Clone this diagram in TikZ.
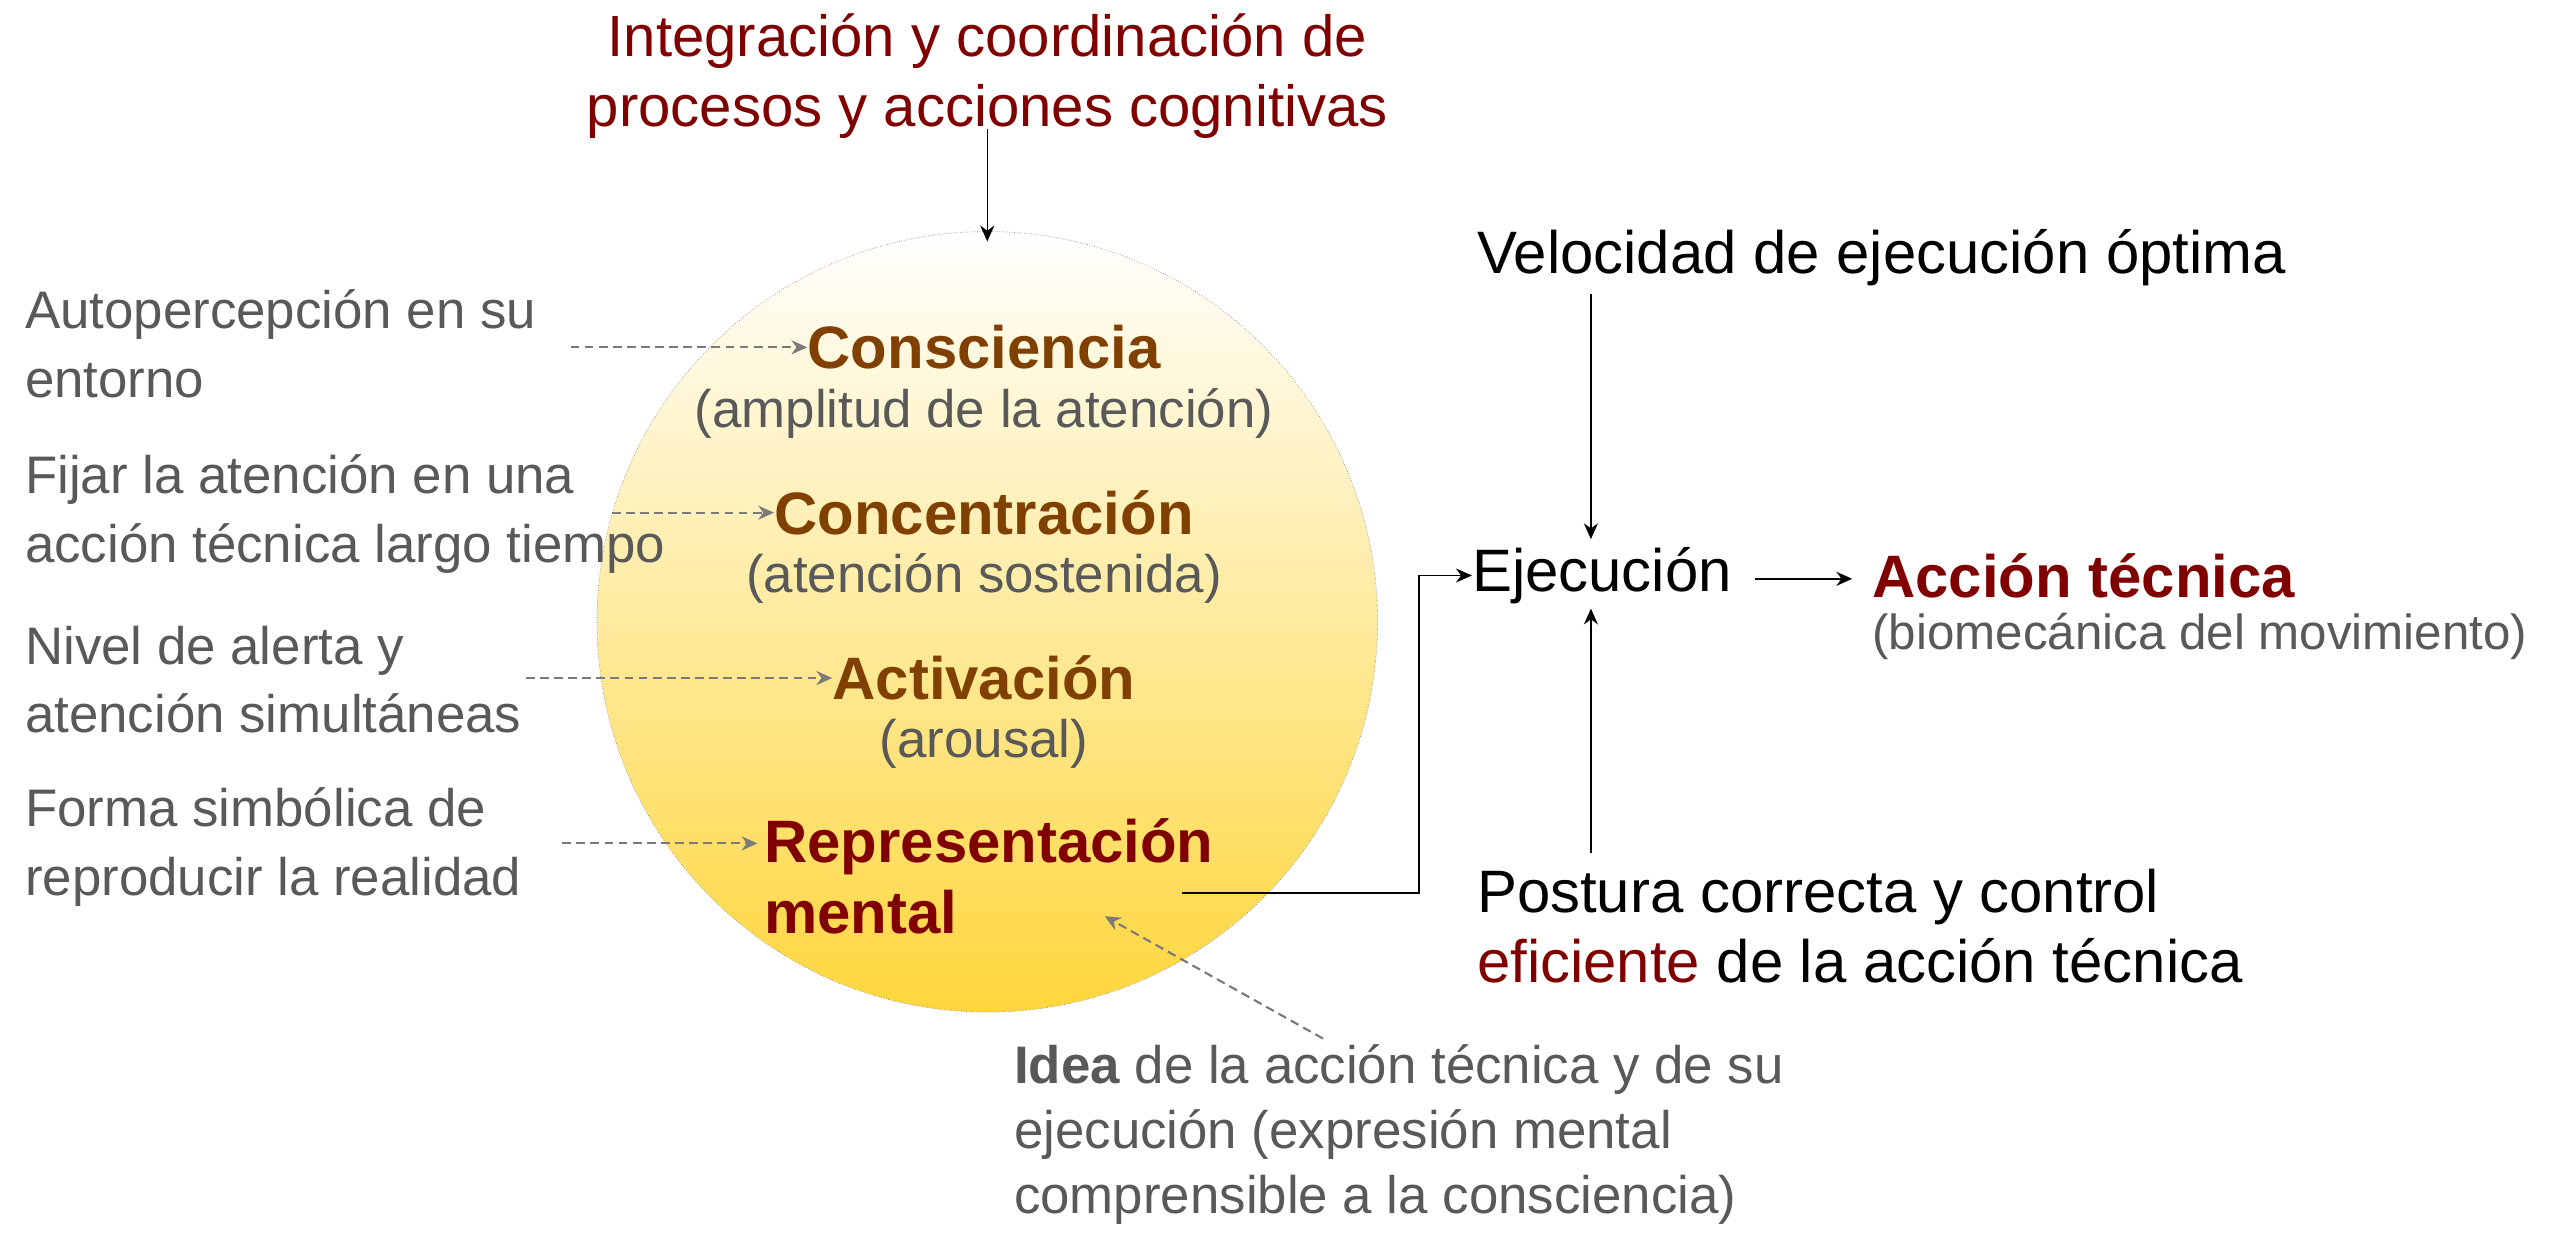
\documentclass[tikz,border=0pt]{standalone}
\usepackage{fontspec}
\setmainfont{Liberation Sans}
\usetikzlibrary{arrows.meta, positioning, calc}
\definecolor{rojo}{RGB}{128,0,0}
\definecolor{cafe}{RGB}{128,64,0}
\definecolor{gris}{RGB}{89,89,89}
\definecolor{amarillo}{RGB}{255,214,60}
\tikzset{
  txt/.style={inner sep=0pt, font=\fontsize{30}{39}\selectfont},
  grande/.style={inner sep=0pt, font=\fontsize{34}{40}\selectfont},
  izq/.style={txt, anchor=west, align=left, text=gris},
  tit/.style={inner sep=0pt, font=\fontsize{34}{40}\selectfont\bfseries, text=cafe},
  sub/.style={txt, text=gris},
  flecha/.style={-{Stealth[length=9pt,width=8pt]}, thick, black},
  guion/.style={-{Stealth[length=9pt,width=8pt]}, line width=1.2pt, gris!80, dash pattern=on 5pt off 3pt}
}
\begin{document}
\begin{tikzpicture}[x=0.033cm, y=-0.033cm]
\useasboundingbox (0,0) rectangle (1548,749);

% circulo
\shade[top color=white, middle color=amarillo!25, bottom color=amarillo]
  (597,376) circle (236);
\draw[gris!70, densely dotted, thin] (597,376) circle (236);

% titulo
\node[grande, text=rojo, align=center, font=\fontsize{33}{40}\selectfont] (titulo) at (597,46) {Integración y coordinación de\\procesos y acciones cognitivas};
\coordinate (tope) at (597,146);
\draw[flecha] (titulo.south) ++(0,-6) -- (tope);

% dentro del circulo
\node[tit] (cons) at (595,210) {Consciencia};
\node[sub] (consSub) at (595,250) {(amplitud de la atención)};
\node[tit] (conc) at (595,310) {Concentración};
\node[sub] (concSub) at (595,350) {(atención sostenida)};
\node[tit] (activ) at (595,410) {Activación};
\node[sub] (activSub) at (595,450) {(arousal)};
\node[tit, text=rojo, anchor=west, align=left] (repr) at (462,530) {Representación\\mental};

% textos izquierda
\node[izq] (autop) at (15,208) {Autopercepción en su\\entorno};
\node[izq] (fijar) at (15,311) {Fijar la atención en una\\acción técnica largo tiempo};
\node[izq] (nivel) at (15,411) {Nivel de alerta y\\atención simultáneas};
\node[izq] (forma) at (15,512) {Forma simbólica de\\reproducir la realidad};

\draw[guion] (345,210) -- (cons.west);
\draw[guion] (370,310) -- (conc.west);
\draw[guion] (318,410) -- (activ.west);
\draw[guion] (340,510) -- ($(repr.west)+(-4,-20)$);

% idea
\node[izq, font=\fontsize{30}{37}\selectfont] (idea) at (613,686) {\textbf{Idea} de la acción técnica y de su\\ejecución (expresión mental\\comprensible a la consciencia)};
\coordinate (ideaIni) at (800,628);
\draw[guion] (ideaIni) -- (668,554);

% derecha
\node[grande, anchor=west] (ejec) at (890,348) {Ejecución};
\node[tit, text=rojo, anchor=west] (accion) at (1132,348) {Acción técnica};
\node[sub, anchor=west, font=\fontsize{28}{32}\selectfont] (accionSub) at (1132,385) {(biomecánica del movimiento)};
\node[grande, anchor=west] (veloc) at (893,156) {Velocidad de ejecución óptima};
\node[grande, anchor=west, align=left] (postura) at (893,560) {Postura correcta y control\\\textcolor{rojo}{eficiente} de la acción técnica};

\draw[flecha] (ejec.east) ++(14,2) -- ($(accion.west)+(-12,2)$);
\draw[flecha] (962,178) -- (962,326);
\draw[flecha] (962,516) -- (962,368);
\draw[flecha] (715,540) -- (858,540) -- (858,348) -- (ejec.west);
\end{tikzpicture}
\end{document}
